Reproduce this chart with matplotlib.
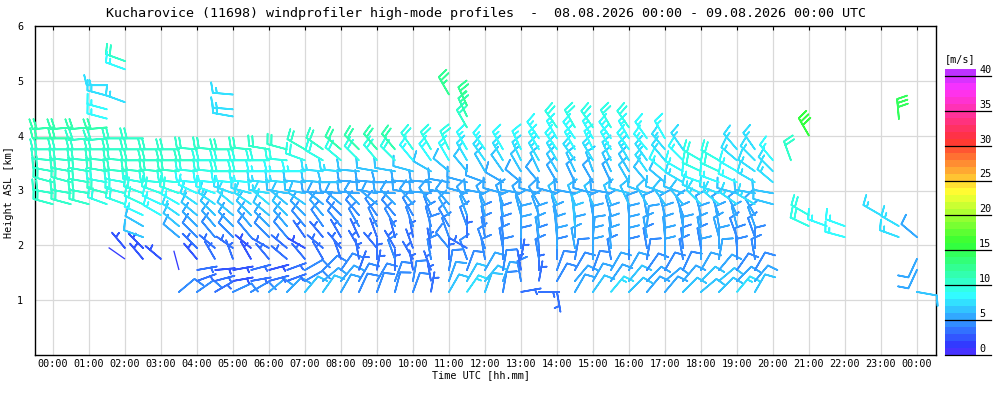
import colorsys
import numpy as np
import matplotlib
matplotlib.use('Agg')
import matplotlib.pyplot as plt
from matplotlib.colors import ListedColormap, BoundaryNorm
from matplotlib.lines import Line2D

N = None

# --- profile times (hours UTC, every 30 min) ---
times = np.arange(0, 24.5, 0.5)

# --- wind direction [deg] and speed [m/s] per range gate ---
d115 = [N, N, N, N, N, N, N, 50, 55, 60,
        65, 60, 50, 45, 40, 35, 30, 25, 20, 15,
        20, 10, 30, 35, 20, 10, 80, 90, 170, 30,
        35, 40, 45, 40, 40, 45, 50, 45, 40, 30,
        N, N, N, N, N, N, N, N, 100]
s115 = [N, N, N, N, N, N, N, 4, 4, 3,
        4, 4, 5, 5, 6, 6, 5, 4, 4, 4,
        4, 3, 6, 7, 6, 4, 3, 3, 3, 5,
        6, 7, 6, 5, 5, 6, 6, 6, 7, 6,
        N, N, N, N, N, N, N, N, 6]

d135 = [N, N, N, N, N, N, N, N, 70, 75,
        80, 80, 75, 70, 60, 50, 40, 30, 30, 20,
        10, 350, 20, 30, 40, 20, 350, 10, 30, 40,
        30, 35, 40, 45, 50, 40, 45, 50, 45, 40,
        N, N, N, N, N, N, N, N, N]
s135 = [N, N, N, N, N, N, N, N, 3, 3,
        2, 3, 3, 3, 4, 5, 5, 4, 4, 4,
        4, 3, 5, 6, 6, 5, 4, 3, 4, 5,
        5, 5, 6, 5, 5, 5, 6, 6, 5, 5,
        N, N, N, N, N, N, N, N, N]

d155 = [N, N, N, N, N, N, N, 345, 80, 85,
        80, 75, 75, 70, 60, 45, 35, 20, 10, 0,
        350, 340, 10, 20, 30, 10, 350, 0, 20, 30,
        20, 30, 30, 35, 30, 25, 30, 40, 35, 30,
        N, N, N, N, N, N, N, N, 205]
s155 = [N, N, N, N, N, N, N, 1, 3, 2,
        2, 3, 2, 3, 4, 4, 4, 3, 3, 3,
        3, 3, 4, 4, 5, 4, 3, 3, 4, 4,
        4, 5, 5, 4, 4, 4, 5, 5, 4, 4,
        N, N, N, N, N, N, N, N, 5]

d175 = [N, N, N, N, 305, 320, 310, N, 320, 330,
        340, 330, 320, 310, 320, 330, 340, 350, 0, 340,
        330, 350, 0, 340, 350, 0, 10, 350, 0, 10,
        0, 350, 0, 10, 0, 350, 0, 10, 0, 350,
        N, N, N, N, N, N, N, N, 205]
s175 = [N, N, N, N, 1, 2.5, 2.5, N, 2.5, 3,
        3, 2, 3, 3, 3, 3, 3, 3, 3, 4,
        3, 4, 3, 4, 4, 4, 3, 4, 4, 4,
        5, 4, 4, 4, 5, 4, 5, 5, 4, 4,
        N, N, N, N, N, N, N, N, 5]

d195 = [N, N, N, N, 320, 315, N, N, 315, 310,
        305, 310, 300, 310, 300, 310, 320, 330, 320, 330,
        340, 350, 320, 300, 340, 350, 0, 355, 0, 350,
        0, 355, 0, 350, 0, 355, 350, 0, 355, 0,
        N, N, N, N, N, N, N, N, N]
s195 = [N, N, N, N, 2.5, 2, N, N, 3, 3,
        3, 2, 3, 3, 2, 3, 3, 3, 3, 3,
        3, 3, 4, 3, 4, 4, 4, 4, 5, 5,
        5, 5, 5, 4, 5, 4, 4, 5, 4, 4,
        N, N, N, N, N, N, N, N, N]

d215 = [N, N, N, N, N, 290, N, 310, 315, 320,
        315, 320, 315, 320, 325, 320, 330, 335, 340, 345,
        350, 355, 340, 0, 350, 355, 0, 350, 355, 0,
        5, 355, 0, 350, 355, 0, 350, 345, 340, 340,
        N, N, N, N, 285, N, N, 290, 310]
s215 = [N, N, N, N, N, 6, N, 5, 4, 4,
        4, 4, 4, 4, 3, 3, 3, 3, 3, 3,
        3, 4, 4, 3, 4, 4, 5, 5, 5, 5,
        5, 5, 5, 5, 5, 5, 5, 5, 4, 4,
        N, N, N, N, 8, N, N, 7, 5]

d235 = [N, N, N, N, N, 300, N, 310, 315, 320,
        315, 320, 315, 320, 320, 325, 320, 330, 335, 330,
        340, 345, 330, 340, 350, 355, 0, 355, 350, 355,
        0, 355, 0, 5, 355, 350, 355, 350, 345, 340,
        N, N, 295, 290, 290, N, N, 300, N]
s235 = [N, N, N, N, N, 6, N, 6, 5, 5,
        5, 5, 5, 5, 4, 4, 4, 4, 4, 4,
        4, 4, 4, 4, 4, 4, 5, 5, 5, 6,
        5, 5, 5, 5, 5, 5, 5, 5, 5, 5,
        N, N, 9, 8, 8, N, N, 7, N]

d255 = [N, N, N, N, N, 295, 300, 305, 310, 315,
        310, 315, 310, 315, 315, 320, 315, 320, 325, 320,
        330, 340, 330, 340, 345, 350, 345, 340, 345, 350,
        350, 345, 355, 350, 345, 340, 345, 340, 335, 330,
        N, N, 300, N, N, N, 300, N, N]
s255 = [N, N, N, N, N, 8, 8, 7, 6, 6,
        6, 6, 6, 6, 5, 5, 4, 4, 4, 4,
        4, 4, 5, 5, 5, 5, 5, 5, 5, 6,
        5, 5, 5, 5, 5, 5, 5, 5, 5, 5,
        N, N, 9, N, N, N, 7, N, N]

d275 = [285, 285, 285, 290, 290, 295, 295, 300, 305, 305,
        310, 305, 310, 310, 305, 310, 310, 315, 310, 315,
        320, 325, 320, 330, 335, 340, 335, 330, 335, 340,
        335, 340, 335, 330, 325, 320, 315, 310, 305, 300,
        285, N, N, N, N, N, N, N, N]
s275 = [10, 10, 10, 9, 9, 9, 8, 8, 7, 7,
        7, 7, 7, 6, 6, 5, 5, 5, 5, 5,
        5, 5, 5, 5, 5, 5, 5, 5, 6, 6,
        6, 6, 6, 6, 6, 6, 7, 7, 7, 7,
        6, N, N, N, N, N, N, N, N]

d295 = [280, 280, 280, 285, 285, 290, 290, 290, 295, 290,
        290, 285, 280, 280, 280, 275, 275, 275, 280, 275,
        280, 275, 280, 285, 280, 285, 280, 285, 285, 280,
        285, 280, 285, 290, 290, 290, 295, 290, 285, 280,
        280, N, N, N, N, N, N, N, N]
s295 = [10, 10, 10, 10, 9, 9, 9, 9, 8, 8,
        7, 7, 7, 6, 6, 5, 5, 5, 5, 5,
        5, 5, 5, 5, 5, 5, 5, 5, 5, 5,
        5, 5, 6, 6, 6, 6, 7, 7, 6, 6,
        6, N, N, N, N, N, N, N, N]

d315 = [285, 285, 280, 280, 280, 280, 275, 275, 275, 275,
        275, 275, 275, 275, 275, 275, 270, 275, 275, 270,
        275, 275, 280, 285, 290, 300, 310, 320, 330, 335,
        330, 335, 330, 320, 310, 300, 290, 290, 295, 300,
        310, N, N, N, N, N, N, N, N]
s315 = [10, 10, 10, 9, 9, 9, 9, 9, 8, 8,
        8, 8, 7, 7, 6, 6, 6, 5, 5, 5,
        5, 5, 5, 5, 5, 5, 5, 5, 5, 5,
        5, 5, 6, 6, 6, 7, 8, 8, 8, 7,
        7, N, N, N, N, N, N, N, N]

d335 = [280, 280, 280, 280, 275, 275, 275, 275, 275, 275,
        270, 270, 270, 270, 270, 275, 275, 275, 280, 280,
        285, 300, 310, 320, 330, 325, 330, 335, 330, 335,
        340, 335, 330, 325, 310, 300, 295, 295, 300, 305,
        315, N, N, N, N, N, N, N, N]
s335 = [10, 10, 10, 10, 10, 10, 10, 10, 9, 9,
        9, 9, 8, 8, 8, 7, 7, 6, 6, 6,
        6, 6, 6, 6, 6, 6, 6, 6, 6, 6,
        6, 6, 6, 7, 8, 8, 9, 9, 8, 7,
        7, N, N, N, N, N, N, N, N]

d355 = [275, 275, 275, 275, 275, 270, 270, 270, 270, 270,
        270, 270, 270, 275, 290, 300, 310, 315, 320, 315,
        320, 325, 330, 330, 325, 330, 335, 330, 330, 325,
        330, 335, 330, 325, 320, 315, 300, 300, 310, 315,
        320, 340, N, N, N, N, N, N, N]
s355 = [10, 10, 10, 10, 10, 10, 10, 10, 10, 9,
        9, 9, 9, 9, 9, 9, 9, 9, 9, 9,
        8, 8, 8, 7, 7, 7, 7, 7, 7, 7,
        7, 7, 7, 7, 7, 8, 9, 9, 7, 7,
        8, 10, N, N, N, N, N, N, N]

d375 = [270, 270, 270, 270, 270, 270, 270, 270, 275, 275,
        270, 275, 280, 285, 300, 305, 310, 315, 320, 320,
        325, 330, 335, 330, 325, 330, 335, 330, 325, 330,
        335, 330, 325, 320, 320, 325, N, N, 320, 325,
        N, N, N, N, N, N, N, N, N]
s375 = [10, 10, 10, 10, 10, 10, 10, 10, 10, 10,
        10, 10, 10, 10, 10, 10, 11, 11, 11, 11,
        9, 9, 9, 8, 8, 8, 8, 8, 8, 8,
        8, 8, 8, 8, 7, 7, N, N, 7, 7,
        N, N, N, N, N, N, N, N, N]

d395 = [270, 270, 265, 265, 270, 270, N, N, N, N,
        N, N, N, N, N, N, N, N, N, N,
        N, N, N, N, N, N, N, 325, 330, 325,
        330, 325, 330, 325, 330, N, N, N, N, N,
        N, N, N, N, N, N, N, N, N]
s395 = [11, 11, 10, 10, 10, 10, N, N, N, N,
        N, N, N, N, N, N, N, N, N, N,
        N, N, N, N, N, N, N, 8, 8, 8,
        8, 8, 8, 8, 8, N, N, N, N, N,
        N, N, N, N, N, N, N, N, N]

d415 = [265, 265, 265, 265, N, N, N, N, N, N,
        N, N, N, N, N, N, N, N, N, N,
        N, N, N, N, N, N, N, N, 325, 330,
        325, 330, 325, N, N, N, N, N, N, N,
        N, N, N, N, N, N, N, N, N]
s415 = [11, 11, 11, 11, N, N, N, N, N, N,
        N, N, N, N, N, N, N, N, N, N,
        N, N, N, N, N, N, N, N, 9, 9,
        9, 9, 9, N, N, N, N, N, N, N,
        N, N, N, N, N, N, N, N, N]

heights = [1.15, 1.35, 1.55, 1.75, 1.95, 2.15, 2.35, 2.55,
           2.75, 2.95, 3.15, 3.35, 3.55, 3.75, 3.95, 4.15]
dir_rows = [d115, d135, d155, d175, d195, d215, d235, d255,
            d275, d295, d315, d335, d355, d375, d395, d415]
spd_rows = [s115, s135, s155, s175, s195, s215, s235, s255,
            s275, s295, s315, s335, s355, s375, s395, s415]

# isolated barbs above the main layer
extra_t = [1.5, 1.5, 2.0, 1.5, 1.5, 2.0, 2.0, 5.0, 5.0, 5.0,
           11.5, 11.5, 11.5, 11.0, 21.0, 23.5]
extra_h = [4.92, 4.73, 4.61, 4.48, 4.31, 5.36, 5.21, 4.75, 4.48, 4.35,
           4.15, 4.35, 4.55, 4.75, 4.00, 4.30]
extra_dir = [270, 285, 290, 285, 285, 290, 290, 275, 275, 280,
             330, 335, 335, 330, 330, 355]
extra_spd = [7, 7, 7, 8, 8, 10, 8, 7, 7, 7,
             10, 11, 12, 12, 15, 14]

title = ('Kucharovice (11698) windprofiler high-mode profiles  -  '
         '08.08.2026 00:00 - 09.08.2026 00:00 UTC')

# --- collect points ---
T, H, D, S = [], [], [], []
for h, drow, srow in zip(heights, dir_rows, spd_rows):
    for t, d, s in zip(times, drow, srow):
        if d is not None and s is not None:
            T.append(t); H.append(h); D.append(d); S.append(s)
T += extra_t; H += extra_h; D += extra_dir; S += extra_spd
T = np.array(T, float); H = np.array(H, float)
D = np.radians(np.array(D, float)); S = np.array(S, float)

# colour scale (0..41 m/s, 1 m/s bands)
ncol = 41
cols = []
for k in range(ncol):
    hue = (250 - 8.125 * (k + 0.5)) % 360
    cols.append(colorsys.hsv_to_rgb(hue / 360.0, 0.8, 1.0))
cmap = ListedColormap(cols)
norm = BoundaryNorm(np.arange(0, ncol + 1), ncol)

plt.rcParams['font.family'] = ['DejaVu Sans Mono']
fig = plt.figure(figsize=(10, 4), dpi=100)
ax = fig.add_axes([0.035, 0.1125, 0.901, 0.8225])

calm = S < 1.25
u = -S * np.sin(D)
v = -S * np.cos(D)
ax.barbs(T[~calm], H[~calm], u[~calm], v[~calm], S[~calm], cmap=cmap, norm=norm,
         length=5.4, linewidth=1.2, clip_on=False, zorder=3,
         barb_increments=dict(half=2.5, full=5, flag=25),
         sizes=dict(spacing=0.2, height=0.5, width=0.25, emptybarb=0))
if calm.any():
    ax.quiver(T[calm], H[calm], np.sin(D[calm]), np.cos(D[calm]),
              color=cmap(norm(S[calm])), angles='uv', units='inches',
              scale_units='inches', scale=5, width=0.013, pivot='tail',
              headwidth=0, headlength=0, headaxislength=0, zorder=3)

ax.set_xlim(-0.5, 24.53)
ax.set_ylim(0, 6)
ax.set_xticks(range(25))
ax.set_xticklabels([f'{h % 24:02d}:00' for h in range(25)])
ax.set_yticks([1, 2, 3, 4, 5, 6])
ax.set_yticklabels(['1', '2', '3', '4', '5', '6'])
ax.grid(color='#d9d9d9', linewidth=0.9)
ax.set_axisbelow(True)
ax.tick_params(axis='x', bottom=False, top=True, direction='in', length=3,
               labelsize=7.3, pad=3)
ax.tick_params(axis='y', left=False, labelsize=7.3, pad=5)
for sp in ax.spines.values():
    sp.set_linewidth(1.0)

fig.text(0.4855, 0.967, title, ha='center', va='center', fontsize=9.6)
fig.text(0.481, 0.0625, 'Time UTC [hh.mm]', ha='center', va='center', fontsize=7.3)
fig.text(0.009, 0.52, 'Height ASL [km]', ha='center', va='center',
         rotation=90, fontsize=7.3)

# colour bar
cb_bottom, cb_height = 0.1125, 0.715
cax = fig.add_axes([0.945, cb_bottom, 0.031, cb_height])
cax.imshow(np.arange(ncol).reshape(-1, 1), cmap=cmap, norm=norm, origin='lower',
           aspect='auto', extent=[0, 1, 0, ncol], interpolation='nearest')
cax.set_axis_off()
for val in range(0, 41, 5):
    y = cb_bottom + val / ncol * cb_height
    fig.add_artist(Line2D([0.945, 0.991], [y, y], color='black', linewidth=0.9))
    fig.text(0.979, y + 0.003, str(val), ha='left', va='bottom', fontsize=7.3)
fig.text(0.945, 0.852, '[m/s]', ha='left', va='center', fontsize=7.3)

fig.savefig('out.png', dpi=100)
